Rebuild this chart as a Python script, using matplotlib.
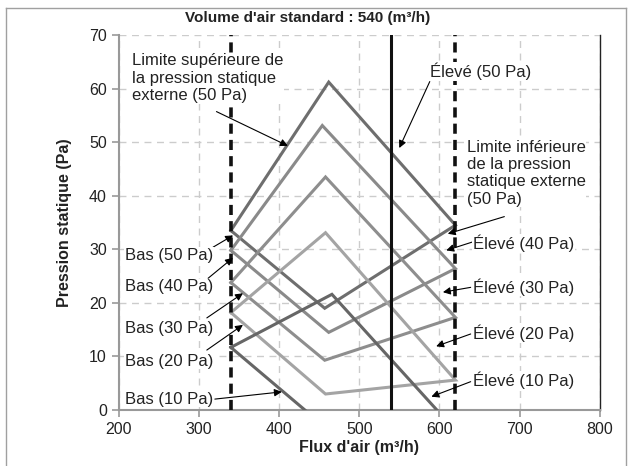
import matplotlib.pyplot as plt
from matplotlib.lines import Line2D

plt.rcParams['font.family'] = ['Liberation Sans', 'DejaVu Sans']

# Data (flow in m3/h, pressure in Pa)
niveaux = [50, 40, 30, 20, 10]
flux_min = 340
flux_max = 620
flux_std = 540
p_gauche = [33.5, 29.8, 23.8, 18.2, 11.7]
flux_haut = [462, 454, 458, 458, 466]
p_haut = [61.2, 53.1, 43.5, 33.1, 21.6]
p_droite = [34.5, 26.4, 17.3, 5.6, -3.8]
flux_bas = [457, 462, 457, 458, 460]
p_bas = [19.0, 14.5, 9.3, 3.0, -3.5]
couleurs = ['#6e6e6e', '#8a8a8a', '#8e8e8e', '#a4a4a4', '#666666']

x_ticks = [200, 300, 400, 500, 600, 700, 800]
y_ticks = [0, 10, 20, 30, 40, 50, 60, 70]

fig = plt.figure(figsize=(6.32, 4.66), dpi=100)
ax = fig.add_axes([0.1877, 0.120, 0.7613, 0.805])

# outer frame
for xs, ys in [([0.009, 0.009], [0.0, 0.983]), ([0.009, 0.991], [0.983, 0.983]),
               ([0.991, 0.991], [0.983, 0.0])]:
    fig.add_artist(Line2D(xs, ys, transform=fig.transFigure, color='#a0a0a0', lw=1))

ax.set_xlim(200, 800)
ax.set_ylim(0, 70)
ax.set_xticks(x_ticks)
ax.set_yticks(y_ticks)
ax.grid(True, color='#cccccc', linestyle=(0, (5, 4)), lw=1)
ax.set_axisbelow(True)
ax.tick_params(colors='#999999', labelcolor='#222222', labelsize=11.5, length=5, width=1.2)
ax.spines['top'].set_visible(False)
ax.spines['left'].set_color('#999999')
ax.spines['left'].set_linewidth(1.5)
ax.spines['bottom'].set_color('#999999')
ax.spines['bottom'].set_linewidth(1.5)
ax.spines['right'].set_color('#222222')
ax.spines['right'].set_linewidth(1)

for i in range(len(niveaux)):
    xs = [flux_min, flux_haut[i], flux_max, flux_bas[i], flux_min]
    ys = [p_gauche[i], p_haut[i], p_droite[i], p_bas[i], p_gauche[i]]
    ax.plot(xs, ys, color=couleurs[i], lw=2.2, solid_joinstyle='miter', zorder=3)

ax.plot([flux_min, flux_min], [0, 70], color='#111111', lw=2.6, ls=(0, (2.8, 1.7)), zorder=4)
ax.plot([flux_max, flux_max], [0, 70], color='#111111', lw=2.6, ls=(0, (2.8, 1.7)), zorder=4)
ax.plot([flux_std, flux_std], [0, 70], color='#111111', lw=2.2, zorder=4)

box = dict(facecolor='white', edgecolor='none', pad=0.5)
arrow = dict(arrowstyle='-|>', color='black', lw=0.8, mutation_scale=11, shrinkA=0, shrinkB=0)
fs = 12

def note(txt, tip, start, pos, **kw):
    ax.annotate('', xy=tip, xytext=start, arrowprops=arrow, zorder=6)
    ax.text(pos[0], pos[1], txt, fontsize=fs, color='#222222', bbox=box, zorder=7,
            ha='left', va='center', **kw)

note('Limite supérieure de\nla pression statique\nexterne (50 Pa)', (411, 49.3), (322, 55.7),
     (217, 61.9), linespacing=1.2)
note('Élevé (50 Pa)', (550, 48.9), (588, 61.3), (588, 63.2))
note('Limite inférieure\nde la pression\nstatique externe\n(50 Pa)', (610.5, 32.9), (681, 36.1),
     (634, 44.2), linespacing=1.2)
note('Élevé (40 Pa)', (608.6, 29.8), (642, 31.4), (642, 31.1))
note('Élevé (30 Pa)', (604.4, 22.0), (639, 22.9), (642, 23.0))
note('Élevé (20 Pa)', (596, 11.9), (639, 14.2), (642, 14.3))
note('Élevé (10 Pa)', (590, 2.5), (639, 5.3), (642, 5.6))
note('Bas (50 Pa)', (342.7, 32.6), (317.8, 30.4), (208, 28.9))
note('Bas (40 Pa)', (342.5, 28.4), (311.6, 24.6), (208, 23.0))
note('Bas (30 Pa)', (355, 21.8), (310, 17.2), (208, 15.3))
note('Bas (20 Pa)', (355, 15.9), (310, 11.2), (208, 9.1))
note('Bas (10 Pa)', (403.5, 3.4), (320, 2.05), (208, 2.05))

ax.set_xlabel("Flux d'air (m³/h)", fontsize=11.5, fontweight='bold', color='#222222', labelpad=2)
ax.set_ylabel('Pression statique (Pa)', fontsize=11.5, fontweight='bold', color='#222222', labelpad=12)
fig.text(0.486, 0.962, "Volume d'air standard : 540 (m³/h)", fontsize=11, fontweight='bold',
         color='#222222', ha='center', va='center')

plt.savefig('out.png', dpi=100)
